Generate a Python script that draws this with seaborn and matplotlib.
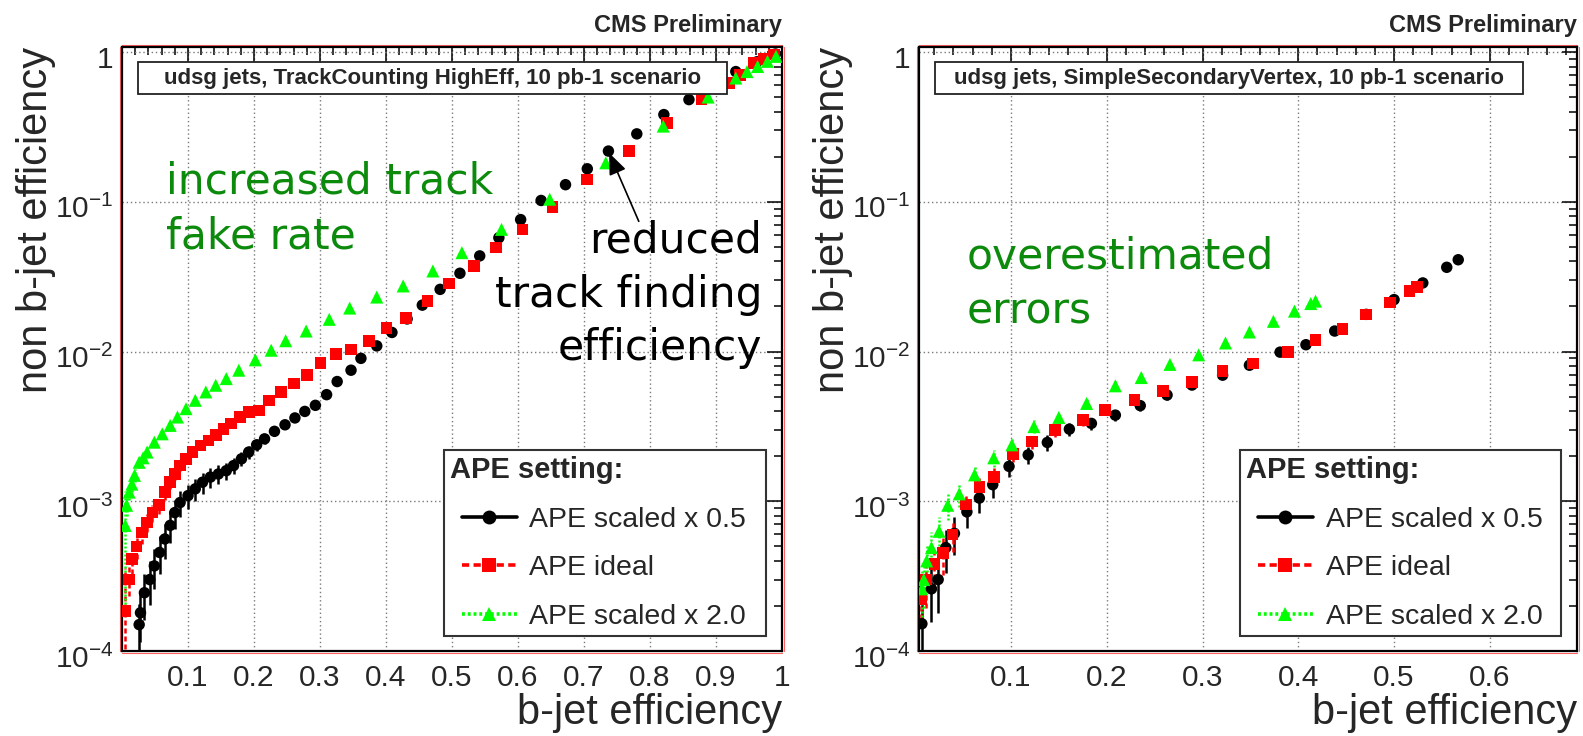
import numpy as np
import pandas as pd
import matplotlib
matplotlib.use("Agg")
import matplotlib.pyplot as plt
import seaborn as sns
from matplotlib.lines import Line2D
from matplotlib.patches import Rectangle
from matplotlib.legend_handler import HandlerLine2D
from matplotlib.transforms import ScaledTranslation
from matplotlib.ticker import FixedLocator, LogLocator, NullFormatter, MultipleLocator

# ---------------- data: TrackCounting HighEff (udsg jets) ----------------
tc_x_half = [0.026, 0.028, 0.034, 0.042, 0.049, 0.057, 0.065, 0.073, 0.080, 0.088,
             0.100, 0.111, 0.122, 0.134, 0.146, 0.158, 0.169, 0.181, 0.192, 0.204,
             0.216, 0.231, 0.247, 0.262, 0.277, 0.293, 0.310, 0.326, 0.347, 0.362,
             0.386, 0.409, 0.432, 0.455, 0.482, 0.512, 0.542, 0.571, 0.604, 0.635,
             0.672, 0.705, 0.737, 0.780, 0.821, 0.859, 0.930, 0.962, 0.990]
tc_y_half = [1.5e-4, 1.8e-4, 2.45e-4, 3.0e-4, 3.7e-4, 4.55e-4, 5.6e-4, 6.9e-4, 8.4e-4, 9.8e-4,
             1.09e-3, 1.21e-3, 1.34e-3, 1.45e-3, 1.52e-3, 1.60e-3, 1.73e-3, 1.92e-3, 2.13e-3, 2.38e-3,
             2.61e-3, 2.93e-3, 3.24e-3, 3.60e-3, 3.98e-3, 4.37e-3, 5.15e-3, 6.3e-3, 7.5e-3, 9.0e-3,
             1.09e-2, 1.34e-2, 1.65e-2, 2.04e-2, 2.6e-2, 3.33e-2, 4.35e-2, 5.75e-2, 7.6e-2, 0.102,
             0.130, 0.166, 0.218, 0.284, 0.382, 0.481, 0.74, 0.86, 0.97]
tc_rel_half = [0.38, 0.36, 0.34, 0.32, 0.30, 0.28, 0.26, 0.24, 0.22, 0.20,
               0.18, 0.17, 0.16, 0.15, 0.14, 0.13, 0.12, 0.11, 0.10, 0.09,
               0.08, 0.07, 0.06, 0.05, 0.05, 0.04, 0.04, 0.03, 0.03, 0.03,
               0.02, 0.02, 0.02, 0.02, 0.02, 0.02, 0.02, 0.02, 0.02, 0.02,
               0.02, 0.02, 0.02, 0.02, 0.02, 0.02, 0.02, 0.02, 0.02]

tc_x_ideal = [0.005, 0.011, 0.015, 0.022, 0.030, 0.038, 0.046, 0.056, 0.065, 0.073,
              0.080, 0.088, 0.097, 0.107, 0.119, 0.131, 0.142, 0.154, 0.165, 0.179,
              0.192, 0.208, 0.223, 0.241, 0.261, 0.280, 0.301, 0.324, 0.347, 0.374,
              0.401, 0.430, 0.463, 0.495, 0.533, 0.567, 0.607, 0.652, 0.705, 0.768,
              0.826, 0.878, 0.920, 0.936, 0.958, 0.973, 0.988]
tc_y_ideal = [1.85e-4, 3.0e-4, 4.1e-4, 5.0e-4, 6.2e-4, 7.2e-4, 8.4e-4, 9.4e-4, 1.15e-3, 1.34e-3,
              1.52e-3, 1.73e-3, 1.92e-3, 2.13e-3, 2.36e-3, 2.55e-3, 2.78e-3, 3.05e-3, 3.30e-3, 3.65e-3,
              3.94e-3, 4.04e-3, 4.72e-3, 5.37e-3, 6.1e-3, 7.0e-3, 8.4e-3, 9.6e-3, 1.03e-2, 1.18e-2,
              1.44e-2, 1.67e-2, 2.18e-2, 2.84e-2, 3.73e-2, 4.94e-2, 6.54e-2, 9.26e-2, 0.141, 0.218,
              0.336, 0.481, 0.62, 0.70, 0.845, 0.90, 0.96]
tc_rel_ideal = [0.95, 0.22, 0.20, 0.18, 0.16, 0.14, 0.13, 0.12, 0.11, 0.10,
                0.09, 0.08, 0.07, 0.07, 0.06, 0.06, 0.05, 0.05, 0.05, 0.04,
                0.04, 0.04, 0.03, 0.03, 0.03, 0.03, 0.02, 0.02, 0.02, 0.02,
                0.02, 0.02, 0.02, 0.02, 0.02, 0.02, 0.02, 0.02, 0.02, 0.02,
                0.02, 0.02, 0.02, 0.02, 0.02, 0.02, 0.02]

tc_x_double = [0.005, 0.007, 0.011, 0.015, 0.019, 0.026, 0.032, 0.038, 0.049, 0.061,
               0.073, 0.084, 0.097, 0.111, 0.127, 0.142, 0.158, 0.177, 0.202, 0.226,
               0.248, 0.279, 0.314, 0.345, 0.386, 0.426, 0.471, 0.515, 0.575, 0.648,
               0.733, 0.820, 0.888, 0.930, 0.947, 0.963, 0.978, 0.991]
tc_y_double = [6.9e-4, 9.4e-4, 1.15e-3, 1.3e-3, 1.49e-3, 1.82e-3, 1.95e-3, 2.13e-3, 2.48e-3, 2.82e-3,
               3.21e-3, 3.65e-3, 4.15e-3, 4.72e-3, 5.37e-3, 5.95e-3, 6.59e-3, 7.5e-3, 8.8e-3, 1.02e-2,
               1.18e-2, 1.37e-2, 1.64e-2, 1.95e-2, 2.31e-2, 2.74e-2, 3.45e-2, 4.57e-2, 6.54e-2, 0.104,
               0.182, 0.32, 0.50, 0.67, 0.74, 0.80, 0.866, 0.935]
tc_rel_double = [0.70, 0.15, 0.12, 0.11, 0.10, 0.09, 0.08, 0.08, 0.07, 0.06,
                 0.06, 0.05, 0.05, 0.04, 0.04, 0.04, 0.03, 0.03, 0.03, 0.02,
                 0.02, 0.02, 0.02, 0.02, 0.02, 0.02, 0.02, 0.02, 0.02, 0.02,
                 0.02, 0.02, 0.02, 0.02, 0.02, 0.02, 0.02, 0.02]

# ---------------- data: SimpleSecondaryVertex (udsg jets) ----------------
ssv_x_half = [0.007, 0.017, 0.024, 0.032, 0.041, 0.054, 0.067, 0.081, 0.098, 0.118,
              0.138, 0.161, 0.184, 0.209, 0.235, 0.263, 0.289, 0.321, 0.349, 0.381,
              0.408, 0.438, 0.471, 0.500, 0.530, 0.555, 0.567]
ssv_y_half = [1.52e-4, 2.6e-4, 3.0e-4, 4.9e-4, 6.1e-4, 8.5e-4, 1.05e-3, 1.29e-3, 1.71e-3, 2.04e-3,
              2.47e-3, 3.03e-3, 3.31e-3, 3.76e-3, 4.35e-3, 5.12e-3, 5.97e-3, 6.95e-3, 8.1e-3, 9.9e-3,
              1.11e-2, 1.37e-2, 1.77e-2, 2.22e-2, 2.87e-2, 3.65e-2, 4.1e-2]
ssv_rel_half = [0.45, 0.40, 0.40, 0.32, 0.28, 0.22, 0.20, 0.18, 0.15, 0.13,
                0.12, 0.10, 0.09, 0.08, 0.08, 0.07, 0.06, 0.06, 0.05, 0.05,
                0.05, 0.04, 0.04, 0.04, 0.03, 0.03, 0.03]

ssv_x_ideal = [0.006, 0.011, 0.020, 0.029, 0.039, 0.053, 0.067, 0.082, 0.102, 0.122,
               0.146, 0.175, 0.198, 0.229, 0.259, 0.289, 0.321, 0.353, 0.389, 0.418,
               0.446, 0.471, 0.496, 0.516, 0.524]
ssv_y_ideal = [2.23e-4, 3.0e-4, 3.8e-4, 4.5e-4, 6.0e-4, 9.5e-4, 1.24e-3, 1.45e-3, 2.07e-3, 2.5e-3,
               2.99e-3, 3.48e-3, 4.08e-3, 4.76e-3, 5.47e-3, 6.28e-3, 7.4e-3, 8.3e-3, 9.95e-3, 1.19e-2,
               1.42e-2, 1.77e-2, 2.13e-2, 2.53e-2, 2.7e-2]
ssv_rel_ideal = [0.35, 0.35, 0.30, 0.28, 0.24, 0.18, 0.16, 0.15, 0.12, 0.11,
                 0.10, 0.09, 0.08, 0.07, 0.07, 0.06, 0.06, 0.05, 0.05, 0.05,
                 0.04, 0.04, 0.04, 0.03, 0.03]

ssv_x_double = [0.007, 0.009, 0.012, 0.017, 0.025, 0.034, 0.046, 0.062, 0.082, 0.101,
                0.124, 0.150, 0.179, 0.209, 0.236, 0.266, 0.296, 0.324, 0.349, 0.374,
                0.396, 0.413, 0.418]
ssv_y_double = [2.6e-4, 3.0e-4, 4.0e-4, 4.9e-4, 6.3e-4, 9.4e-4, 1.12e-3, 1.5e-3, 1.95e-3, 2.38e-3,
                3.15e-3, 3.63e-3, 4.5e-3, 5.9e-3, 6.7e-3, 8.2e-3, 9.5e-3, 1.14e-2, 1.35e-2, 1.59e-2,
                1.86e-2, 2.09e-2, 2.17e-2]
ssv_rel_double = [0.35, 0.35, 0.30, 0.28, 0.25, 0.20, 0.18, 0.15, 0.13, 0.12,
                  0.10, 0.09, 0.08, 0.07, 0.07, 0.06, 0.06, 0.05, 0.05, 0.05,
                  0.04, 0.04, 0.04]

# ---------------- labels ----------------
settings = ["APE scaled x 0.5", "APE ideal", "APE scaled x 2.0"]
tc_xticks = [0.1, 0.2, 0.3, 0.4, 0.5, 0.6, 0.7, 0.8, 0.9, 1.0]
tc_xticklabels = ["0.1", "0.2", "0.3", "0.4", "0.5", "0.6", "0.7", "0.8", "0.9", "1"]
ssv_xticks = [0.1, 0.2, 0.3, 0.4, 0.5, 0.6]
ssv_xticklabels = ["0.1", "0.2", "0.3", "0.4", "0.5", "0.6"]
yticks = [1e-4, 1e-3, 1e-2, 1e-1, 1.0]
yticklabels = ["$10^{-4}$", "$10^{-3}$", "$10^{-2}$", "$10^{-1}$", "1"]

# ---------------- styling ----------------
sns.set_theme(style="white")
plt.rcParams["font.family"] = ["Liberation Sans", "DejaVu Sans"]
plt.rcParams["mathtext.fontset"] = "custom"
plt.rcParams["mathtext.rm"] = "Liberation Sans"
plt.rcParams["mathtext.it"] = "Liberation Sans:italic"
plt.rcParams["mathtext.bf"] = "Liberation Sans:bold"

COLORS = {settings[0]: "#000000", settings[1]: "#ff0000", settings[2]: "#00ff00"}
MARKERS = {settings[0]: "o", settings[1]: "s", settings[2]: "^"}
SIZES = {settings[0]: 68, settings[1]: 70, settings[2]: 88}
LSTYLES = {settings[0]: "-", settings[1]: (0, (2.0, 1.2)), settings[2]: (0, (0.8, 0.8))}
GREEN_TXT = "#0c8a0c"

fig = plt.figure(figsize=(15.83, 7.36), dpi=100)
W, H = 1583.0, 736.0
ax_l = fig.add_axes([122 / W, (H - 651) / H, 660 / W, 604 / H])
ax_r = fig.add_axes([919 / W, (H - 651) / H, 658 / W, 604 / H])


def draw_panel(ax, series, xlim, xticks, xticklabels, title):
    ax.set_yscale("log")
    frames = []
    for name, xs, ys, rel in series:
        xs = np.asarray(xs)
        ys = np.asarray(ys)
        err = ys * np.asarray(rel)
        eb = ax.errorbar(xs, ys, yerr=err, fmt="none", ecolor=COLORS[name],
                         elinewidth=1.8, capsize=0, zorder=2)
        for lc in eb[2]:
            lc.set_linestyle(LSTYLES[name])
        frames.append(pd.DataFrame({"b_eff": xs, "nonb_eff": ys, "setting": name}))
    df = pd.concat(frames, ignore_index=True)
    sns.scatterplot(data=df, x="b_eff", y="nonb_eff", hue="setting", style="setting",
                    size="setting", palette=COLORS, markers=MARKERS, sizes=SIZES,
                    linewidth=0, legend=False, ax=ax, zorder=3)

    ax.set_xlim(*xlim)
    ax.set_ylim(1e-4, 1.08)

    ax.xaxis.set_major_locator(FixedLocator(xticks))
    ax.set_xticklabels(xticklabels)
    ax.xaxis.set_minor_locator(MultipleLocator(0.02))
    ax.yaxis.set_major_locator(FixedLocator(yticks))
    ax.set_yticklabels(yticklabels)
    ax.yaxis.set_minor_locator(LogLocator(base=10, subs=np.arange(2, 10)))
    ax.yaxis.set_minor_formatter(NullFormatter())

    ax.tick_params(which="both", direction="in", top=True, right=True,
                   color="black", width=1.1)
    ax.tick_params(which="major", length=11)
    ax.tick_params(which="minor", length=6)
    ax.tick_params(axis="x", which="major", labelsize=21.5, pad=9)
    ax.tick_params(axis="y", which="major", labelsize=21.5, pad=6)
    # tick labels on the value axis sit a little below their grid line
    for lab in ax.yaxis.get_majorticklabels():
        lab.set_transform(lab.get_transform() +
                          ScaledTranslation(0, -5 / 100, fig.dpi_scale_trans))

    ax.grid(True, which="major", color="#7a7a7a", linestyle=(0, (1, 2)), linewidth=1.0)
    ax.set_axisbelow(True)
    for sp in ax.spines.values():
        sp.set_color("black")
        sp.set_linewidth(1.6)

    # thin red frame line just outside the black frame
    off = 1.4 / 72
    for xs, ys, dx, dy in [([0, 1], [0, 0], 0, -off), ([0, 1], [1, 1], 0, off),
                           ([0, 0], [0, 1], -off, 0), ([1, 1], [0, 1], off, 0)]:
        tr = ax.transAxes + ScaledTranslation(dx, dy, fig.dpi_scale_trans)
        ax.add_line(Line2D(xs, ys, transform=tr, color="#ff6060", lw=0.8,
                           clip_on=False, zorder=1))

    ax.set_xlabel("b-jet efficiency", fontsize=30, loc="right")
    ax.xaxis.set_label_coords(1.0, -0.070)
    ax.set_ylabel("non b-jet efficiency", fontsize=30, loc="top")
    ax.yaxis.set_label_coords(-0.100, 1.0)

    # scenario box
    ax.add_patch(Rectangle((0.0242, 0.922), 0.893, 0.053, transform=ax.transAxes,
                           facecolor="white", edgecolor="#222222", lw=1.3, zorder=6))
    ax.text(0.0242 + 0.893 / 2, 0.9485, title, transform=ax.transAxes,
            ha="center", va="center", fontsize=16, fontweight="bold", zorder=7)

    ax.text(1.0, 1.036, "CMS Preliminary", transform=ax.transAxes, ha="right",
            va="center", fontsize=17, fontweight="bold")

    handles = [Line2D([], [], color=COLORS[s], ls=LSTYLES[s], lw=2.6,
                      marker=MARKERS[s], markersize=10, markeredgewidth=0)
               for s in settings]
    leg = ax.legend(handles, settings, title="APE setting:", loc="lower left",
                    bbox_to_anchor=(0.488, 0.025, 0.488, 0.316), mode="expand",
                    fontsize=20.5, title_fontproperties={"weight": "bold", "size": 21},
                    alignment="left", frameon=True, fancybox=False,
                    edgecolor="#333333", framealpha=1.0, borderpad=0.2,
                    labelspacing=0.8, handlelength=2.35, handletextpad=0.45,
                    borderaxespad=0.0,
                    handler_map={Line2D: HandlerLine2D(xpad=0.42)})
    leg.get_frame().set_linewidth(1.5)
    leg.set_zorder(8)


draw_panel(ax_l,
           [(settings[0], tc_x_half, tc_y_half, tc_rel_half),
            (settings[1], tc_x_ideal, tc_y_ideal, tc_rel_ideal),
            (settings[2], tc_x_double, tc_y_double, tc_rel_double)],
           (0.0, 1.0), tc_xticks, tc_xticklabels,
           "udsg jets, TrackCounting HighEff, 10 pb-1 scenario")

draw_panel(ax_r,
           [(settings[0], ssv_x_half, ssv_y_half, ssv_rel_half),
            (settings[1], ssv_x_ideal, ssv_y_ideal, ssv_rel_ideal),
            (settings[2], ssv_x_double, ssv_y_double, ssv_rel_double)],
           (0.004, 0.691), ssv_xticks, ssv_xticklabels,
           "udsg jets, SimpleSecondaryVertex, 10 pb-1 scenario")

# annotations, left panel
ann_font = dict(family="DejaVu Sans", fontsize=30.5)
ax_l.text(0.0667, 0.758, "increased track", transform=ax_l.transAxes, color=GREEN_TXT,
          ha="left", va="baseline", zorder=7, **ann_font)
ax_l.text(0.0667, 0.667, "fake rate", transform=ax_l.transAxes, color=GREEN_TXT,
          ha="left", va="baseline", zorder=7, **ann_font)
ax_l.text(0.970, 0.659, "reduced", transform=ax_l.transAxes, color="black",
          ha="right", va="baseline", zorder=7, **ann_font)
ax_l.text(0.970, 0.570, "track finding", transform=ax_l.transAxes, color="black",
          ha="right", va="baseline", zorder=7, **ann_font)
ax_l.text(0.970, 0.482, "efficiency", transform=ax_l.transAxes, color="black",
          ha="right", va="baseline", zorder=7, **ann_font)
ax_l.annotate("", xy=(0.738, 0.212), xytext=(0.783, 0.074), xycoords="data",
              textcoords="data",
              arrowprops=dict(arrowstyle="-|>,head_length=1.1,head_width=0.45",
                              color="black", lw=1.2, shrinkA=0, shrinkB=0),
              zorder=7)

# annotation, right panel
ax_r.text(0.073, 0.634, "overestimated", transform=ax_r.transAxes, color=GREEN_TXT,
          ha="left", va="baseline", zorder=7, **ann_font)
ax_r.text(0.073, 0.543, "errors", transform=ax_r.transAxes, color=GREEN_TXT,
          ha="left", va="baseline", zorder=7, **ann_font)

fig.savefig("out.png", dpi=100, facecolor="white")
